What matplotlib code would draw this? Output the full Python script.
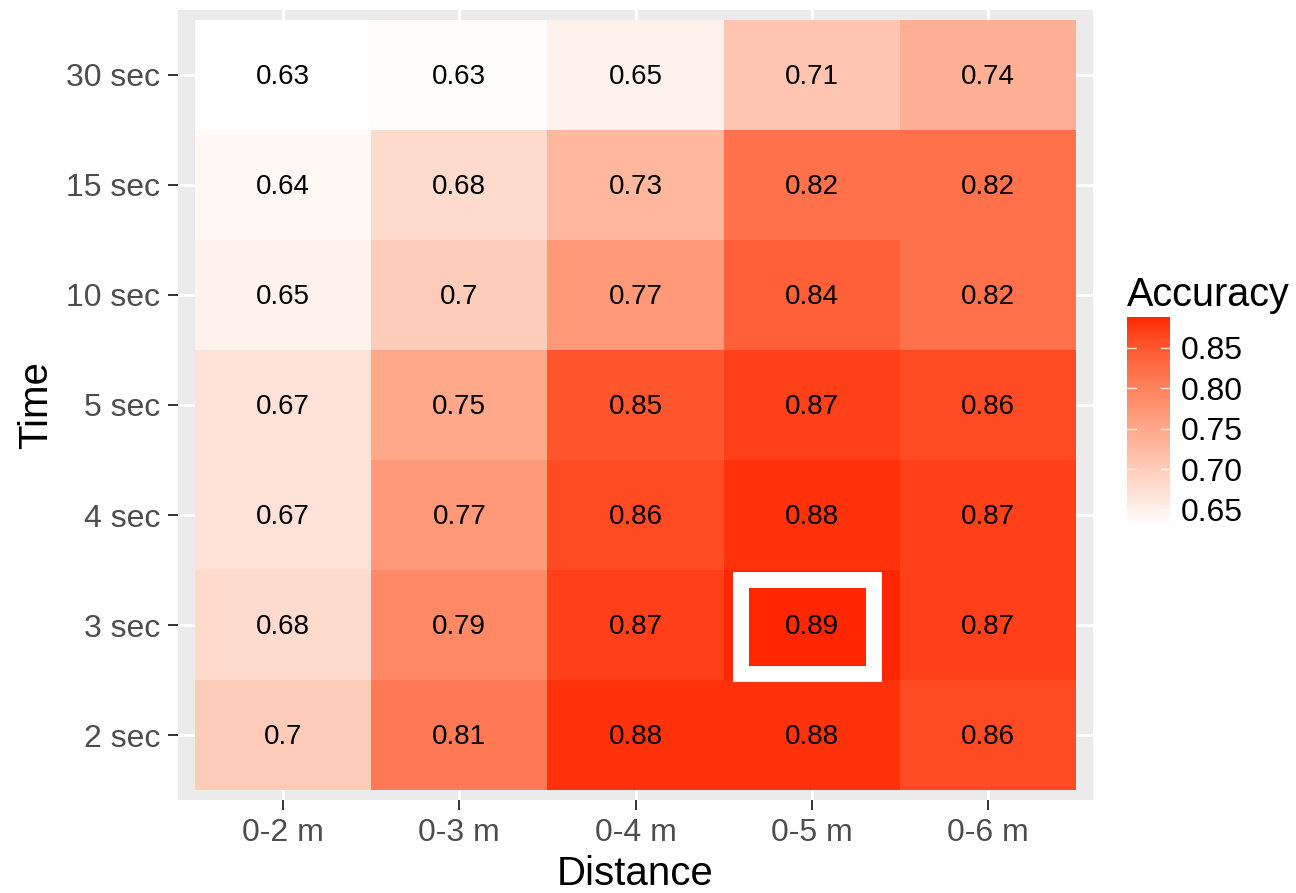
import numpy as np
import matplotlib
matplotlib.use('Agg')
import matplotlib.pyplot as plt
from matplotlib.colors import ListedColormap, Normalize
from matplotlib.patches import Rectangle
from matplotlib.colorbar import ColorbarBase

plt.rcParams['font.family'] = ['Liberation Sans', 'DejaVu Sans']

distances = ['0-2 m', '0-3 m', '0-4 m', '0-5 m', '0-6 m']
times = ['2 sec', '3 sec', '4 sec', '5 sec', '10 sec', '15 sec', '30 sec']

# accuracy per time (rows, bottom to top) and distance (columns)
acc_2s = [0.700, 0.810, 0.880, 0.880, 0.860]
acc_3s = [0.680, 0.790, 0.870, 0.888, 0.870]
acc_4s = [0.670, 0.770, 0.860, 0.880, 0.870]
acc_5s = [0.670, 0.750, 0.850, 0.870, 0.860]
acc_10s = [0.650, 0.700, 0.770, 0.840, 0.820]
acc_15s = [0.640, 0.680, 0.730, 0.820, 0.820]
acc_30s = [0.629, 0.633, 0.650, 0.710, 0.740]

best_cell = ('0-5 m', '3 sec')
cbar_ticks = [0.65, 0.70, 0.75, 0.80, 0.85]


def srgb_to_lab(rgb):
    c = np.asarray(rgb, float)
    lin = np.where(c <= 0.04045, c / 12.92, ((c + 0.055) / 1.055) ** 2.4)
    m = np.array([[0.4124, 0.3576, 0.1805],
                  [0.2126, 0.7152, 0.0722],
                  [0.0193, 0.1192, 0.9505]])
    xyz = m @ lin / np.array([0.95047, 1.0, 1.08883])
    f = np.where(xyz > 0.008856, np.cbrt(xyz), 7.787 * xyz + 16 / 116)
    return np.array([116 * f[1] - 16, 500 * (f[0] - f[1]), 200 * (f[1] - f[2])])


def lab_to_srgb(lab):
    L, a, b = lab
    fy = (L + 16) / 116
    fx = fy + a / 500
    fz = fy - b / 200
    f = np.array([fx, fy, fz])
    xyz = np.where(f ** 3 > 0.008856, f ** 3, (f - 16 / 116) / 7.787)
    xyz = xyz * np.array([0.95047, 1.0, 1.08883])
    m = np.array([[3.2406, -1.5372, -0.4986],
                  [-0.9689, 1.8758, 0.0415],
                  [0.0557, -0.2040, 1.0570]])
    lin = m @ xyz
    c = np.where(lin <= 0.0031308, 12.92 * lin, 1.055 * np.clip(lin, 0, None) ** (1 / 2.4) - 0.055)
    return np.clip(c, 0, 1)


# ggplot-style gradient: white -> red, interpolated in Lab
lo = srgb_to_lab([1, 1, 1])
hi = srgb_to_lab([1.0, 38 / 255, 0.0])
cmap = ListedColormap([lab_to_srgb(lo + (hi - lo) * t) for t in np.linspace(0, 1, 256)])

values = np.array([acc_2s, acc_3s, acc_4s, acc_5s, acc_10s, acc_15s, acc_30s])
norm = Normalize(vmin=0.629, vmax=0.888)

fig = plt.figure(figsize=(12.96, 8.93), dpi=100)
ax = fig.add_axes([178 / 1296, 1 - 800 / 893, (1093 - 178) / 1296, 790 / 893])
ax.set_facecolor('#EBEBEB')

nx, ny = len(distances), len(times)
ax.set_xlim(-0.597, nx - 1 + 0.597)
ax.set_ylim(-0.59, ny - 1 + 0.59)

# white major grid (ggplot look)
for i in range(nx):
    ax.axvline(i, color='white', lw=2, zorder=0)
for j in range(ny):
    ax.axhline(j, color='white', lw=2, zorder=0)

ax.pcolormesh(np.arange(nx + 1) - 0.5, np.arange(ny + 1) - 0.5, values,
              cmap=cmap, norm=norm, zorder=1)

for j in range(ny):
    for i in range(nx):
        ax.text(i, j - 0.02, f'{round(values[j, i], 2):g}', ha='center', va='center',
                fontsize=20, color='black', zorder=3)

bx = distances.index(best_cell[0])
by = times.index(best_cell[1])
ax.add_patch(Rectangle((bx - 0.023 - 0.378, by - 0.018 - 0.428), 0.756, 0.856, fill=False,
                       edgecolor='white', lw=11.5, joinstyle='miter', zorder=2))

ax.set_xticks(range(nx))
ax.set_xticklabels(distances)
ax.set_yticks(range(ny))
ax.set_yticklabels(times)
ax.tick_params(axis='both', labelsize=23, labelcolor='#4D4D4D', color='#333333',
               length=7, width=1.4)
ax.tick_params(axis='x', pad=6)
ax.tick_params(axis='y', pad=6)
for s in ax.spines.values():
    s.set_visible(False)

ax.set_xlabel('Distance', fontsize=29, labelpad=5)
ax.set_ylabel('Time', fontsize=29, labelpad=8)

# colour bar legend
cax = fig.add_axes([1127 / 1296, 1 - 527 / 893, 43 / 1296, 210 / 893])
cb = ColorbarBase(cax, cmap=cmap, norm=norm, ticks=cbar_ticks)
cb.outline.set_visible(False)
cb.ax.set_yticklabels([f'{t:.2f}' for t in cbar_ticks])
cax.tick_params(length=0, labelsize=23, labelcolor='black', pad=8)
for t in cbar_ticks:
    cax.plot([0, 0.2], [t, t], color='white', lw=1, alpha=0.8)
    cax.plot([0.8, 1], [t, t], color='white', lw=1, alpha=0.8)
cax.set_xlim(0, 1)
fig.text(1127 / 1296, 1 - 295 / 893, 'Accuracy', fontsize=28.5, ha='left', va='center')

fig.savefig('out.png', dpi=100)
